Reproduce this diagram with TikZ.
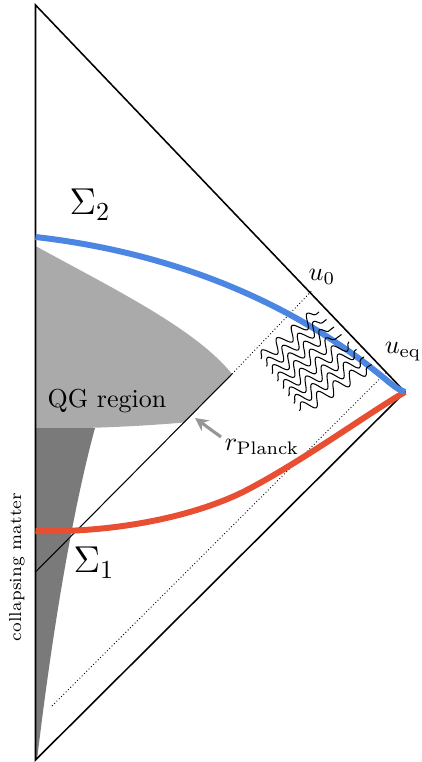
\documentclass[tikz,border=0pt]{standalone}
\usetikzlibrary{decorations.pathmorphing,arrows.meta}
\definecolor{qgblue}{RGB}{74,134,226}
\definecolor{qgred}{RGB}{232,78,50}
\definecolor{lightqg}{RGB}{170,170,170}
\definecolor{darkqg}{RGB}{122,122,122}
\definecolor{arrowgray}{RGB}{150,150,150}
\begin{document}
\begin{tikzpicture}[x=0.385pt,y=-0.385pt,
  edge/.style={line width=0.6pt},
  thinline/.style={line width=0.4pt},
  dotline/.style={line width=0.35pt, dash pattern=on 0.35pt off 0.9pt},
  thick curve/.style={line width=2.3pt},
  wave/.style={line width=0.4pt, decorate, decoration={snake, amplitude=2.5pt, segment length=7.5pt}},
  lbl/.style={inner sep=0pt}]
\useasboundingbox (0,0) rectangle (422,762);
% vertices
\coordinate (top) at (35.5,5);
\coordinate (bot) at (35.5,760);
\coordinate (right) at (405,392);
% horizon and rays
\coordinate (h0) at (35.5,572);
\coordinate (h1) at (232,374);
\coordinate (u0) at (311.5,291);
\coordinate (d0) at (52,706);
\coordinate (ueq) at (386.5,372);
% QG region
\fill[lightqg] (35.5,246) .. controls (110,287) and (195,328) .. (h1)
  -- (184,422.5) .. controls (120,428) and (60,429) .. (35.5,428) -- cycle;
% collapsing matter
\fill[darkqg] (35.5,428) -- (95,428) .. controls (70,520) and (50,650) .. (37,760) -- (35.5,760) -- cycle;
% outer triangle
\draw[edge] (top) -- (bot) -- (right) -- cycle;
% horizon
\draw[thinline] (h0) -- (h1);
\draw[dotline] (h1) -- (u0);
\draw[dotline] (d0) -- (ueq);
% curves
\draw[thick curve, qgred] (35.5,531) .. controls (110,533) and (190,518) .. (243,492)
  .. controls (300,463) and (370,412) .. (right);
\draw[thick curve, qgblue] (35.5,237) .. controls (150,250) and (280,290) .. (390,383)
  .. controls (398,389) .. (right);
% radiation
\foreach \i in {0,...,7}
  \draw[wave] ({261+5.5*\i},{359+7.4*\i}) -- ({319+7.5*\i},{312+7.5*\i});
% labels
\node[lbl] (s2) at (90,205) {\Large $\Sigma_2$};
\node[lbl] (s1) at (94,563) {\Large $\Sigma_1$};
\node[lbl] (qg) at (107,401) {QG region};
\node[lbl, rotate=90] (cm) at (17,567) {\fontsize{6.6}{8}\selectfont collapsing matter};
\node[lbl] (lu0) at (322,277) {$u_0$};
\node[lbl] (lueq) at (403,352) {$u_{\mathrm{eq}}$};
\node[lbl] (rp) at (262,447) {$r_{\mathrm{Planck}}$};
\coordinate (a0) at (221,437);
\coordinate (a1) at (195,418);
\draw[arrowgray, line width=1.2pt, -{Stealth[length=5pt,width=5pt]}] (a0) -- (a1);
\end{tikzpicture}
\end{document}
